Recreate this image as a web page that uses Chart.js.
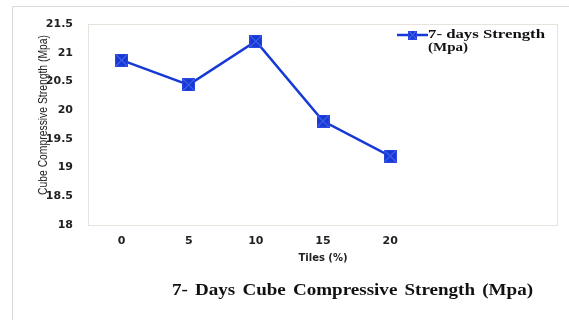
<!DOCTYPE html>
<html>
<head>
<meta charset="utf-8">
<script src="https://cdn.jsdelivr.net/npm/chart.js@4"></script>
<style>
  html, body { margin: 0; padding: 0; background: #fff; }
  #wrap { width: 569px; height: 320px; position: relative; }
</style>
</head>
<body>
<div id="wrap"><canvas id="chart" width="569" height="320"></canvas></div>
<script>
// data
const tiles = ['0', '5', '10', '15', '20', '', ''];
const strength7 = [20.87, 20.44, 21.2, 19.81, 19.2, null, null];
const yTicks = [18, 18.5, 19, 19.5, 20, 20.5, 21, 21.5];
const seriesName = ['7- days Strength', '(Mpa)'];
const yTitle = 'Cube Compressive Strength (Mpa)';
const xTitle = 'Tiles (%)';
const caption = '7- Days Cube Compressive Strength (Mpa)';

const blue = '#1538d6';

// square marker with a cross, like the excel one
function makeMarker(size) {
    const c = document.createElement('canvas');
    c.width = size; c.height = size;
    const g = c.getContext('2d');
    g.fillStyle = blue;
    g.fillRect(0, 0, size, size);
    g.strokeStyle = '#5f7cf0';
    g.lineWidth = 1;
    g.beginPath();
    g.moveTo(1, 1); g.lineTo(size - 1, size - 1);
    g.moveTo(size - 1, 1); g.lineTo(1, size - 1);
    g.stroke();
    g.strokeStyle = '#2a48e0';
    g.strokeRect(0.5, 0.5, size - 1, size - 1);
    return c;
}
const marker = makeMarker(13);
const smallMarker = makeMarker(9);

// the source picture is a bit stretched sideways, so stretch text to a width
function stretchedText(ctx, text, x, y, width) {
    const w = ctx.measureText(text).width;
    ctx.save();
    ctx.translate(x, y);
    ctx.scale(width / w, 1);
    ctx.fillText(text, 0, 0);
    ctx.restore();
}

const extras = {
    id: 'extras',
    beforeDraw(chart) {
        const ctx = chart.ctx;
        const a = chart.chartArea;
        ctx.save();
        // outer frame
        ctx.strokeStyle = '#d9d9d9';
        ctx.lineWidth = 1;
        ctx.beginPath();
        ctx.moveTo(12.5, 320);
        ctx.lineTo(12.5, 6.5);
        ctx.lineTo(569, 6.5);
        ctx.stroke();
        // plot area frame
        ctx.strokeStyle = '#e6e3dc';
        ctx.strokeRect(a.left + 0.5, a.top + 0.5, a.right - a.left - 1, a.bottom - a.top);
        ctx.restore();
    },
    afterDraw(chart) {
        const ctx = chart.ctx;
        ctx.save();
        // y title, overlapping the ticks like the original
        ctx.translate(43, 115);
        ctx.rotate(-Math.PI / 2);
        ctx.font = '13px "Liberation Sans Narrow", "Liberation Sans", sans-serif';
        ctx.fillStyle = '#222';
        ctx.textAlign = 'left';
        ctx.textBaseline = 'middle';
        stretchedText(ctx, yTitle, -80, 0, 160);
        ctx.restore();

        ctx.save();
        // legend inside plot area, top right
        const lx = 397, ly = 35;
        ctx.strokeStyle = blue;
        ctx.lineWidth = 2.5;
        ctx.beginPath();
        ctx.moveTo(lx, ly);
        ctx.lineTo(lx + 31, ly);
        ctx.stroke();
        ctx.drawImage(smallMarker, lx + 11, ly - 4.5);
        ctx.fillStyle = '#111';
        ctx.font = 'bold 13px "Liberation Serif", serif';
        ctx.textAlign = 'left';
        ctx.textBaseline = 'middle';
        stretchedText(ctx, seriesName[0], lx + 31, ly, 117);
        stretchedText(ctx, seriesName[1], lx + 31, ly + 13, 40);

        // caption
        ctx.font = 'bold 16px "Liberation Serif", serif';
        ctx.wordSpacing = '2px';
        stretchedText(ctx, caption, 172, 291, 361);
        ctx.restore();
    }
};

new Chart(document.getElementById('chart'), {
    type: 'line',
    data: {
        labels: tiles,
        datasets: [{
            label: seriesName.join(' '),
            data: strength7,
            borderColor: blue,
            borderWidth: 2.5,
            backgroundColor: blue,
            pointStyle: marker,
            pointRadius: 6.5,
            pointHoverRadius: 6.5,
            tension: 0,
            spanGaps: false
        }]
    },
    options: {
        responsive: false,
        animation: false,
        layout: { padding: { left: 0, right: 11, top: 24, bottom: 52 } },
        plugins: {
            legend: { display: false },
            tooltip: { enabled: false },
            title: { display: false }
        },
        scales: {
            x: {
                type: 'category',
                offset: true,
                grid: { display: false },
                border: { display: false },
                ticks: {
                    color: '#222',
                    font: { family: '"DejaVu Sans", sans-serif', weight: 'bold', size: 11 },
                    padding: 2,
                    maxRotation: 0,
                    autoSkip: false
                },
                title: {
                    display: true,
                    text: xTitle,
                    color: '#222',
                    font: { family: '"DejaVu Sans", sans-serif', weight: 'bold', size: 10 },
                    padding: { top: 4, bottom: 4 }
                },
                afterFit(scale) { scale.height = 43; }
            },
            y: {
                min: 18,
                max: 21.5,
                afterBuildTicks(scale) { scale.ticks = yTicks.map(v => ({ value: v })); },
                grid: { display: false },
                border: { display: false },
                ticks: {
                    color: '#222',
                    font: { family: '"DejaVu Sans", sans-serif', weight: 'bold', size: 11 },
                    padding: 7,
                    callback: v => String(v)
                },
                afterFit(scale) { scale.width = 88; }
            }
        }
    },
    plugins: [extras]
});
</script>
</body>
</html>
